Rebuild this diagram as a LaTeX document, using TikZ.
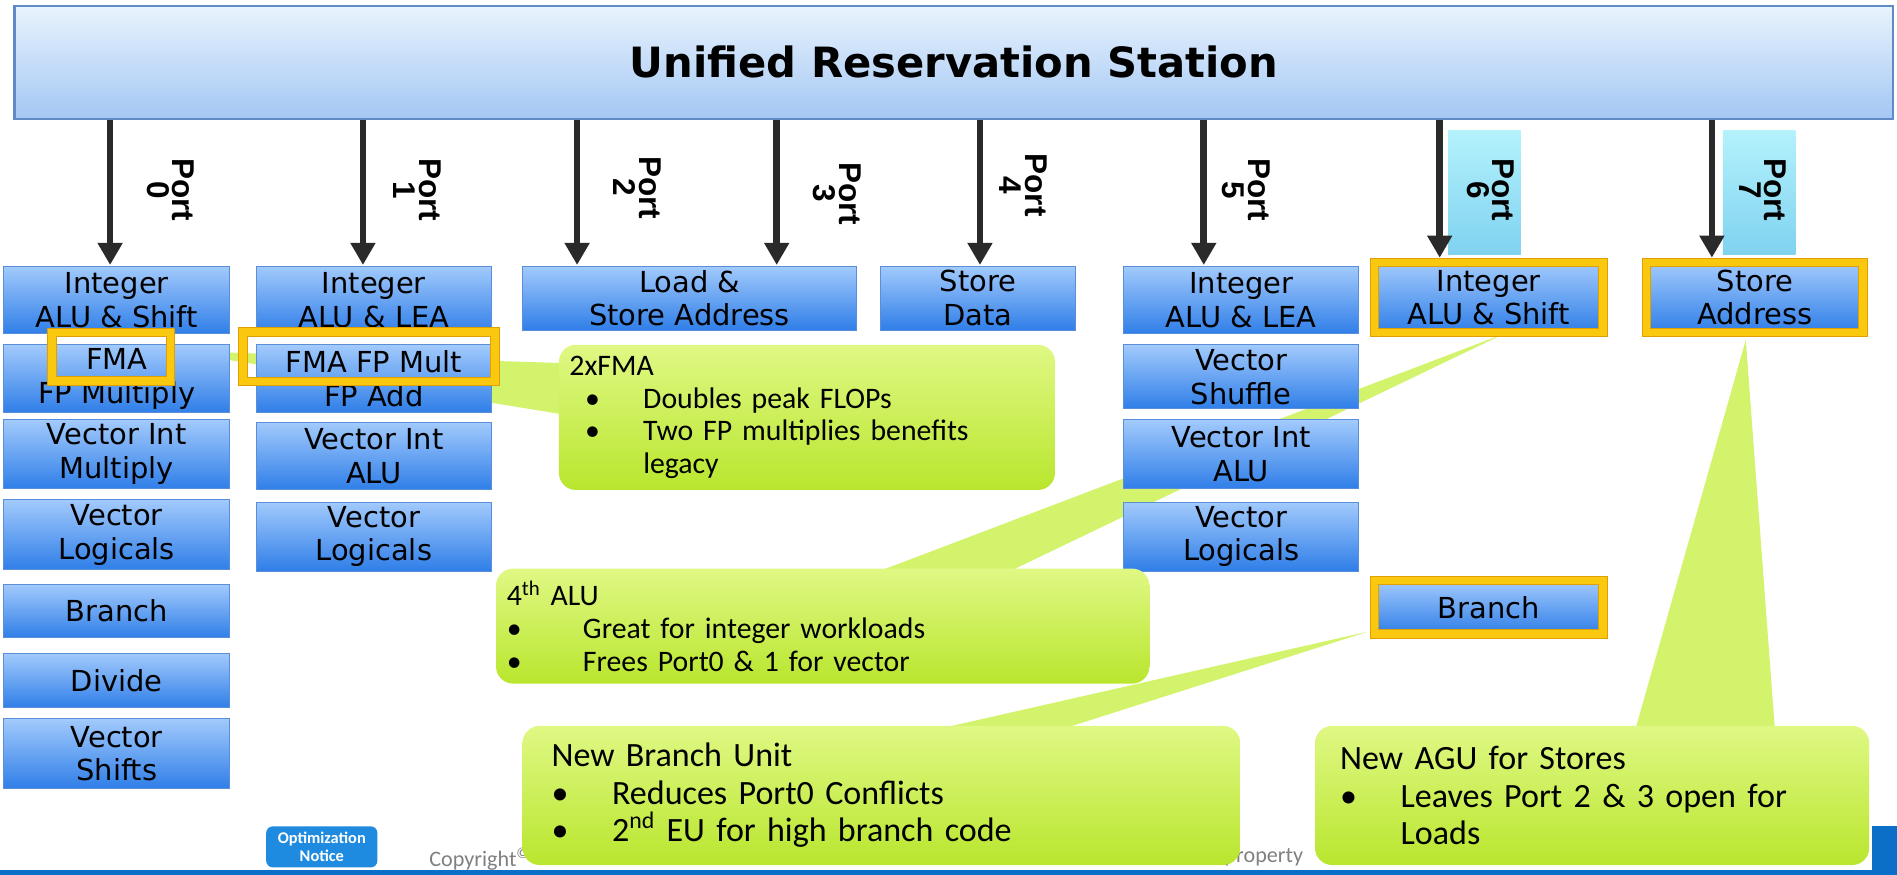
\documentclass[tikz,border=0pt]{standalone}
\usepackage{fontspec}
\setmainfont{Carlito}
\newfontfamily\boxfamily{DejaVu Sans}
\newfontfamily\portfamily{Liberation Sans}
\usetikzlibrary{arrows.meta}

\newdimen\upx \upx=0.025cm
\newcommand{\itm}[1]{\makebox[#1][l]{\textbullet}}

\definecolor{rstop}{HTML}{E8F3FD}
\definecolor{rsbot}{HTML}{A4C7F4}
\definecolor{rsedge}{HTML}{5F8AC4}
\definecolor{boxtop}{HTML}{A2CAFC}
\definecolor{boxbot}{HTML}{2F7EE8}
\definecolor{boxedge}{HTML}{5A8ED8}
\definecolor{gold}{HTML}{F9C80F}
\definecolor{goldedge}{HTML}{E0A000}
\definecolor{pbtop}{HTML}{B4F2FC}
\definecolor{pbbot}{HTML}{7FD2F0}
\definecolor{calltop}{HTML}{DFF884}
\definecolor{callbot}{HTML}{B9E62E}
\definecolor{callwedge}{HTML}{D3F36C}
\definecolor{arrowgray}{HTML}{2A2A2A}
\definecolor{badge}{HTML}{1F8BE0}
\definecolor{intelblue}{HTML}{0B6FC8}

\tikzset{
  wh/.style 2 args={minimum width=#1*0.025cm, minimum height=#2*0.025cm},
  rsbar/.style={rectangle, inner sep=0pt, top color=rstop, bottom color=rsbot,
    draw=rsedge, line width=1.2pt, font=\boxfamily\bfseries\fontsize{24.5}{28}\selectfont},
  portbox/.style={rectangle, inner sep=0pt, top color=pbtop, bottom color=pbbot},
  portarrow/.style={draw=arrowgray, line width=4pt, -{Triangle[width=14pt,length=13pt]}},
  portlabel/.style={rotate=-90, align=center, inner sep=0pt,
    font=\portfamily\bfseries\fontsize{18.5}{15}\selectfont},
  unit/.style={rectangle, inner sep=0pt, align=center, top color=boxtop, bottom color=boxbot,
    draw=boxedge, line width=0.6pt, font=\boxfamily\fontsize{17}{19.8}\selectfont},
  goldunit/.style={unit, draw=goldedge, line width=0.6pt, double=gold, double distance=4.4pt},
  goldframe/.style={rectangle, inner sep=0pt, draw=goldedge, line width=0.6pt,
    double=gold, double distance=4.4pt},
  wedge/.style={fill=callwedge},
  callout/.style={rectangle, rounded corners=10pt, top color=calltop, bottom color=callbot,
    align=left, inner ysep=0pt, font=\fontsize{17.5}{19.2}\selectfont},
  bigcallout/.style={callout, font=\fontsize{20}{22}\selectfont}
}

\begin{document}
\begin{tikzpicture}[x=0.025cm, y=-0.025cm]
\fill[white] (0,0) rectangle (1568,723);
\useasboundingbox (0,0) rectangle (1568,723);

% reservation station and ports
\node[rsbar, wh={1553}{93}] (rs) at (788.5,51.5) {Unified Reservation Station};
\node[portbox, wh={60}{102}] (pb6) at (1227,159) {};
\node[portbox, wh={60}{102}] (pb7) at (1454,159) {};

\coordinate (t0) at (91,219);
\coordinate (t1) at (300,219);
\coordinate (t2) at (477,219);
\coordinate (t3) at (642,219);
\coordinate (t4) at (810,219);
\coordinate (t5) at (995,219);
\coordinate (t6) at (1190,213);
\coordinate (t7) at (1415,213);
\draw[portarrow] (rs.south -| t0) -- (t0);
\draw[portarrow] (rs.south -| t1) -- (t1);
\draw[portarrow] (rs.south -| t2) -- (t2);
\draw[portarrow] (rs.south -| t3) -- (t3);
\draw[portarrow] (rs.south -| t4) -- (t4);
\draw[portarrow] (rs.south -| t5) -- (t5);
\draw[portarrow] (rs.south -| t6) -- (t6);
\draw[portarrow] (rs.south -| t7) -- (t7);

\node[portlabel] (pl0) at (141,157) {Port\\0};
\node[portlabel] (pl1) at (345,157) {Port\\1};
\node[portlabel] (pl2) at (527,155) {Port\\2};
\node[portlabel] (pl3) at (692,160) {Port\\3};
\node[portlabel] (pl4) at (846,153) {Port\\4};
\node[portlabel] (pl5) at (1030,157) {Port\\5};
\node[portlabel] (pl6) at (1232,157) {Port\\6};
\node[portlabel] (pl7) at (1457,157) {Port\\7};

% callout pointers
\fill[wedge] (462,300) -- (143,290) -- (462,342) -- cycle;
\fill[wedge] (727,472) -- (1243,276) -- (835,472) -- cycle;
\fill[wedge] (778,602) -- (1131,522) -- (880,602) -- cycle;
\fill[wedge] (1352,602) -- (1443,281) -- (1467,602) -- cycle;

% execution units
\node[unit, wh={187}{56}] (c0a) at (96.5,248) {Integer\\ALU \& Shift};
\node[unit, wh={187}{56}] (c0b) at (96.5,313) {FMA\\FP Multiply};
\node[unit, wh={187}{57}] (c0c) at (96.5,375.5) {Vector Int\\Multiply};
\node[unit, wh={187}{58}] (c0d) at (96.5,442) {Vector\\Logicals};
\node[unit, wh={187}{44}] (c0e) at (96.5,505) {Branch};
\node[unit, wh={187}{45}] (c0f) at (96.5,562.5) {Divide};
\node[unit, wh={187}{58}] (c0g) at (96.5,623) {Vector\\Shifts};

\node[unit, wh={194}{56}] (c1a) at (309,248) {Integer\\ALU \& LEA};
\node[unit, wh={194}{56}] (c1b) at (309,313) {FMA FP Mult\\FP Add};
\node[unit, wh={194}{56}] (c1c) at (309,377) {Vector Int\\ALU};
\node[unit, wh={194}{57}] (c1d) at (309,443.5) {Vector\\Logicals};

\node[unit, wh={276}{53}] (c23) at (570,246.5) {Load \&\\Store Address};
\node[unit, wh={161}{53}] (c4) at (808.5,246.5) {Store\\Data};

\node[unit, wh={194}{56}] (c5a) at (1026,248) {Integer\\ALU \& LEA};
\node[unit, wh={194}{53}] (c5b) at (1026,311.5) {Vector\\Shuffle};
\node[unit, wh={194}{57}] (c5c) at (1026,375.5) {Vector Int\\ALU};
\node[unit, wh={194}{57}] (c5d) at (1026,443.5) {Vector\\Logicals};

\node[goldunit, wh={189}{58}] (c6a) at (1230.5,246) {Integer\\ALU \& Shift};
\node[goldunit, wh={189}{44}] (c6b) at (1230.5,502) {Branch};
\node[goldunit, wh={179}{58}] (c7) at (1450.5,246) {Store\\Address};

\node[goldframe, wh={98}{40}] (fma0) at (92,295) {};
\node[goldframe, wh={208}{41}] (fma1) at (305,295) {};

% footer
\node[anchor=west, text=gray, font=\fontsize{13}{14}\selectfont] (copyl) at (350,710) {Copyright\textsuperscript{\textcopyright}};
\node[anchor=east, text=gray, font=\fontsize{13}{14}\selectfont] (copyr) at (1082,709) {property};
\node[rectangle, rounded corners=4pt, fill=badge, text=white, align=center, inner sep=0pt,
  wh={92}{34}, font=\bfseries\fontsize{9.6}{11}\selectfont] (optn) at (266,700) {Optimization\\Notice};
\fill[intelblue] (0,719) rectangle (1568,723);
\fill[intelblue] (1547,683) rectangle (1568,723);

% callouts
\node[callout, wh={410}{120}, inner xsep=5.67pt, text width=279.2pt] (cfma) at (667,345)
  {2xFMA\\
   \hspace*{13\upx}\itm{48\upx}Doubles peak FLOPs\\
   \hspace*{13\upx}\itm{48\upx}Two FP multiplies benefits\\
   \hspace*{61\upx}legacy};
\node[callout, wh={540}{95}, inner xsep=5.67pt, text width=371.4pt] (calu) at (680,517.5)
  {4\textsuperscript{th} ALU\\
   \itm{63\upx}Great for integer workloads\\
   \itm{63\upx}Frees Port0 \& 1 for vector};
\node[bigcallout, wh={593}{115}, inner xsep=16.3pt, text width=387.7pt] (cbr) at (728.5,657.5)
  {New Branch Unit\\
   \itm{50\upx}Reduces Port0 Conflicts\\
   \itm{50\upx}2\textsuperscript{nd} EU for high branch code};
\node[bigcallout, wh={458}{115}, inner xsep=14.2pt, text width=296.2pt] (cagu) at (1316,657.5)
  {New AGU for Stores\\
   \itm{50\upx}Leaves Port 2 \& 3 open for\\
   \hspace*{50\upx}Loads};
\end{tikzpicture}
\end{document}
